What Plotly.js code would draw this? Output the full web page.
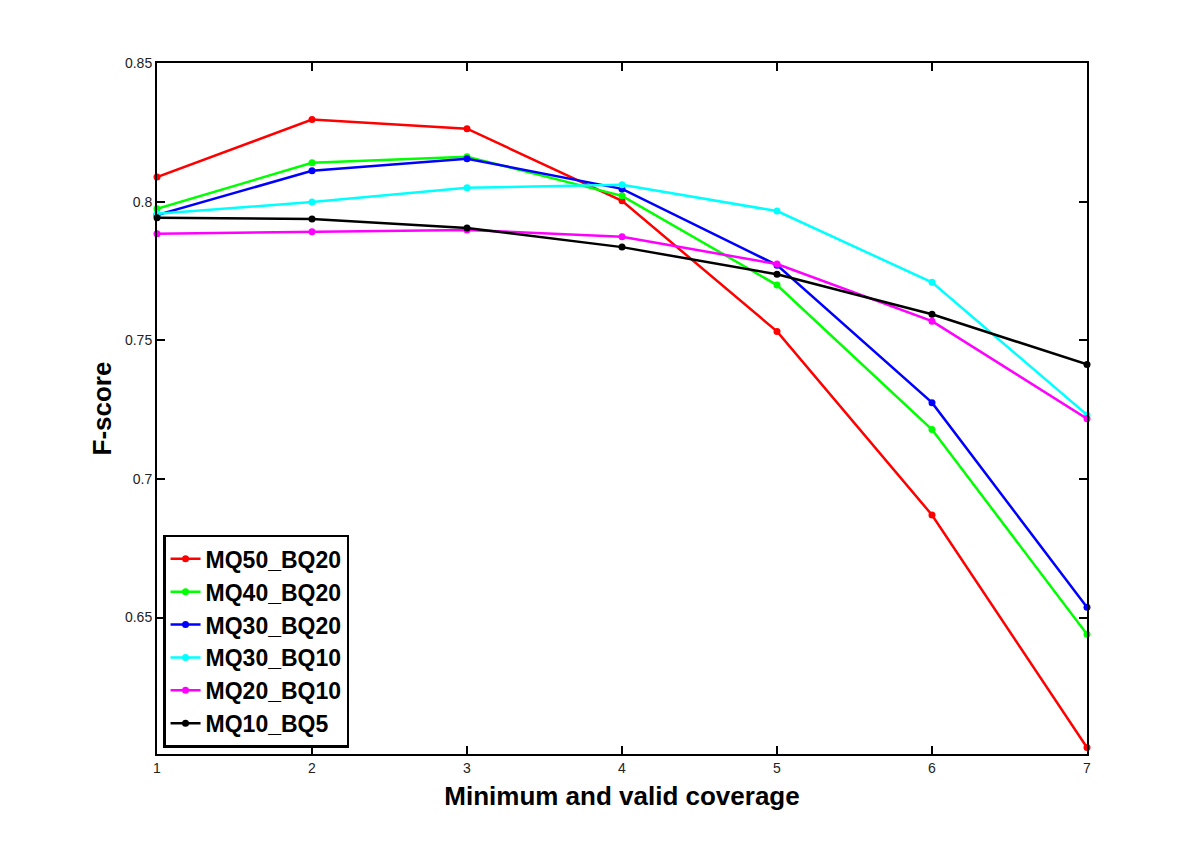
<!DOCTYPE html>
<html>
<head>
<meta charset="utf-8">
<script src="https://cdn.plot.ly/plotly-3.0.1.min.js"></script>
<style>body{margin:0;padding:0;background:#fff;}#chart{width:1200px;height:849px;}</style>
</head>
<body>
<div id="chart"></div>
<script>
const coverage = [1, 2, 3, 4, 5, 6, 7];
const seriesNames = ["MQ50_BQ20", "MQ40_BQ20", "MQ30_BQ20", "MQ30_BQ10", "MQ20_BQ10", "MQ10_BQ5"];
const mq50_bq20 = [0.8089, 0.8296, 0.8263, 0.8003, 0.7532, 0.6870, 0.6031];
const mq40_bq20 = [0.7974, 0.8140, 0.8162, 0.8021, 0.7699, 0.7178, 0.6440];
const mq30_bq20 = [0.7952, 0.8111, 0.8155, 0.8046, 0.7771, 0.7275, 0.6537];
const mq30_bq10 = [0.7956, 0.7999, 0.8050, 0.8061, 0.7966, 0.7709, 0.7231];
const mq20_bq10 = [0.7884, 0.7891, 0.7898, 0.7873, 0.7775, 0.7569, 0.7217];
const mq10_bq5  = [0.7942, 0.7937, 0.7905, 0.7836, 0.7738, 0.7594, 0.7413];
const yTicks = [0.65, 0.7, 0.75, 0.8, 0.85];
const yTickLabels = ["0.65", "0.7", "0.75", "0.8", "0.85"];
const colors = ["#ff0000", "#00ff00", "#0000ff", "#00ffff", "#ff00ff", "#000000"];
const allY = [mq50_bq20, mq40_bq20, mq30_bq20, mq30_bq10, mq20_bq10, mq10_bq5];

const traces = allY.map((ys, i) => ({
  x: coverage, y: ys, name: '<b>' + seriesNames[i] + '</b>', type: 'scatter', mode: 'lines+markers',
  line: {color: colors[i], width: 2.5},
  marker: {color: colors[i], size: 7},
  cliponaxis: false
}));

const layout = {
  width: 1200, height: 849,
  paper_bgcolor: '#fff', plot_bgcolor: '#fff',
  margin: {l: 157, r: 113, t: 63, b: 95},
  font: {family: 'Liberation Sans, Arial, sans-serif', color: '#000'},
  showlegend: true,
  xaxis: {
    range: [1, 7], tickvals: coverage, ticktext: coverage.map(String),
    ticks: 'inside', ticklen: 8, tickwidth: 1.5, tickcolor: '#000',
    showline: true, linecolor: '#000', linewidth: 2, mirror: 'ticks',
    showgrid: false, zeroline: false,
    tickfont: {size: 14, family: 'Liberation Sans, Arial, sans-serif', color: '#222'},
    title: {text: '<b>Minimum and valid coverage</b>', font: {size: 26}, standoff: 12}
  },
  yaxis: {
    range: [0.6008, 0.85], tickvals: yTicks, ticktext: yTickLabels,
    ticks: 'inside', ticklen: 8, tickwidth: 1.5, tickcolor: '#000',
    showline: true, linecolor: '#000', linewidth: 2, mirror: 'ticks',
    showgrid: false, zeroline: false,
    tickfont: {size: 14, family: 'Liberation Sans, Arial, sans-serif', color: '#222'},
    title: {text: '<b>F-score</b>', font: {size: 26}, standoff: 6}
  },
  legend: {
    x: 0.0065, y: 0.009, xanchor: 'left', yanchor: 'bottom',
    bgcolor: '#fff', bordercolor: '#000', borderwidth: 2.5,
    font: {size: 23, family: 'Liberation Sans, Arial, sans-serif', color: '#000'},
    tracegroupgap: 0
  }
};
Plotly.newPlot('chart', traces, layout, {displayModeBar: false});
</script>
</body>
</html>
